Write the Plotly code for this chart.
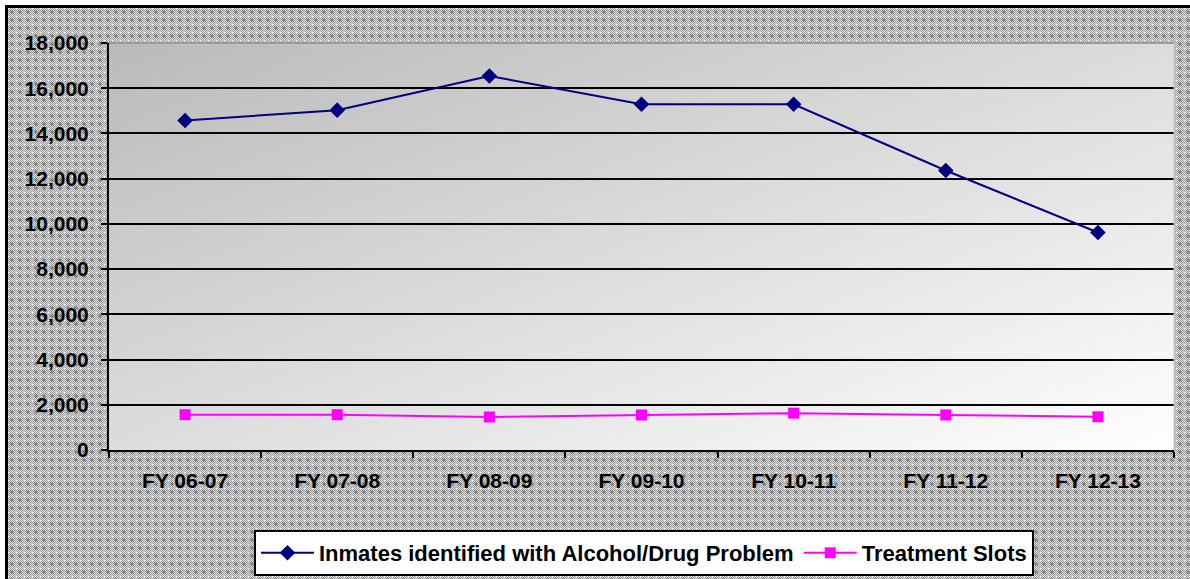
import zlib, struct, base64
import numpy as np
import plotly.graph_objects as go

# ---- data ----
categories = ["FY 06-07", "FY 07-08", "FY 08-09", "FY 09-10", "FY 10-11", "FY 11-12", "FY 12-13"]
inmates_problem = [14570, 15030, 16540, 15290, 15290, 12360, 9620]
treatment_slots = [1560, 1560, 1460, 1550, 1630, 1550, 1470]
y_ticks = [0, 2000, 4000, 6000, 8000, 10000, 12000, 14000, 16000, 18000]
series_names = ["Inmates identified with Alcohol/Drug Problem", "Treatment Slots"]

# ---- canvas geometry ----
W, H = 1190, 579
L, R, T, B = 109, 16, 43, 129
PW, PH = W - L - R, H - T - B


def png_uri(arr):
    arr = np.clip(arr, 0, 255).astype(np.uint8)
    h, w = arr.shape
    raw = b"".join(b"\x00" + arr[i].tobytes() for i in range(h))

    def chunk(t, d):
        c = struct.pack(">I", len(d)) + t + d
        return c + struct.pack(">I", zlib.crc32(t + d) & 0xFFFFFFFF)

    png = (b"\x89PNG\r\n\x1a\n"
           + chunk(b"IHDR", struct.pack(">IIBBBBB", w, h, 8, 0, 0, 0, 0))
           + chunk(b"IDAT", zlib.compress(raw, 9))
           + chunk(b"IEND", b""))
    return "data:image/png;base64," + base64.b64encode(png).decode()


# crosshatch pattern background with frame
yy, xx = np.mgrid[0:H, 0:W]
a = xx % 8
b = yy % 8
checker = (xx + yy) % 2
plus = ((a >= 2) & (a <= 5) & (b >= 3) & (b <= 4)) | ((b >= 2) & (b <= 5) & (a >= 3) & (a <= 4))
bg = np.where(plus, np.where(checker == 0, 125, 155), np.where(checker == 0, 155, 220))
corner = (a == 0) & (b == 0)
bg = np.where(corner, 250, bg)
bg = bg.astype(float)
bg[:, :5] = 255
bg[:5, :] = 255
bg[5:, 5:8] = 0
bg[5:8, 5:] = 0
pattern_uri = png_uri(bg)

# diagonal gradient for the plot area
gh, gw = 100, 200
gy, gx = np.mgrid[0:gh, 0:gw]
grad = 187 + 68 * ((gx / (gw - 1)) + (gy / (gh - 1))) / 2
grad_uri = png_uri(grad)

font_family = "Liberation Sans, Arial, sans-serif"

fig = go.Figure()
fig.add_trace(go.Scatter(
    x=categories, y=inmates_problem, name=series_names[0], mode="lines+markers",
    line=dict(color="#000080", width=2),
    marker=dict(symbol="diamond", size=12, color="#000080"),
))
fig.add_trace(go.Scatter(
    x=categories, y=treatment_slots, name=series_names[1], mode="lines+markers",
    line=dict(color="#FF00FF", width=2),
    marker=dict(symbol="square", size=11, color="#FF00FF"),
))

fig.update_layout(
    width=W, height=H,
    margin=dict(l=L, r=R, t=T, b=B, autoexpand=False),
    paper_bgcolor="white",
    plot_bgcolor="rgba(0,0,0,0)",
    font=dict(family=font_family, color="black"),
    showlegend=True,
    legend=dict(
        orientation="h", x=(644 - L) / PW, xanchor="center", y=(450 - 530) / PH, yanchor="top",
        bgcolor="white", bordercolor="black", borderwidth=2,
        font=dict(family=font_family, size=22, color="black", weight="bold"),
        itemwidth=53,
    ),
    images=[
        dict(source=pattern_uri, xref="paper", yref="paper",
             x=-L / PW, y=(PH + T) / PH, sizex=W / PW, sizey=H / PH,
             sizing="stretch", xanchor="left", yanchor="top", layer="below"),
        dict(source=grad_uri, xref="paper", yref="paper",
             x=0, y=1, sizex=1, sizey=1,
             sizing="stretch", xanchor="left", yanchor="top", layer="below"),
    ],
    shapes=[
        dict(type="line", xref="paper", yref="paper", x0=0, x1=1, y0=1, y1=1,
             line=dict(color="#9a9a9a", width=2), layer="above"),
        dict(type="line", xref="paper", yref="paper", x0=1, x1=1, y0=0, y1=1,
             line=dict(color="#c8c8c8", width=1), layer="above"),
    ],
)

fig.update_xaxes(
    type="category", range=[-0.5, 6.5],
    showline=True, linecolor="black", linewidth=2,
    ticks="outside", tickson="boundaries", ticklen=6, tickwidth=2, tickcolor="black",
    showgrid=False, zeroline=False,
    tickfont=dict(family=font_family, size=21, color="black", weight="bold"),
    ticklabelstandoff=11,
)
fig.update_yaxes(
    range=[0, 18000], tickvals=y_ticks, tickformat=",",
    showline=True, linecolor="black", linewidth=2,
    ticks="outside", ticklen=6, tickwidth=2, tickcolor="black",
    showgrid=True, gridcolor="black", gridwidth=2, zeroline=False,
    tickfont=dict(family=font_family, size=21, color="black", weight="bold"),
    ticklabelstandoff=8,
)

fig.write_html("out.html", config={"displayModeBar": False},
               post_script="document.body.style.margin='0';")
